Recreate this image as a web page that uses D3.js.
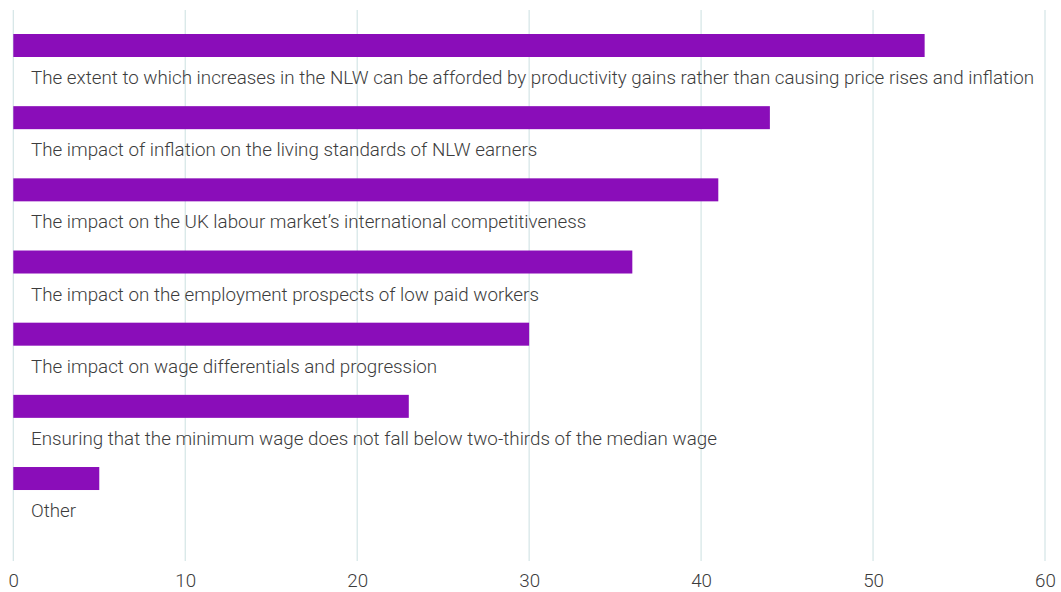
<!DOCTYPE html>
<html>
<head>
<meta charset="utf-8">
<script src="https://cdn.jsdelivr.net/npm/d3@7"></script>
<style>
  html, body { margin: 0; padding: 0; background: #fff; }
  svg { display: block; }
</style>
</head>
<body>
<svg id="chart" width="1061" height="592"></svg>
<script>
// Factors considered, in display order, with share of responses
const categories = [
  "The extent to which increases in the NLW can be afforded by productivity gains rather than causing price rises and inflation",
  "The impact of inflation on the living standards of NLW earners",
  "The impact on the UK labour market\u2019s international competitiveness",
  "The impact on the employment prospects of low paid workers",
  "The impact on wage differentials and progression",
  "Ensuring that the minimum wage does not fall below two-thirds of the median wage",
  "Other"
];
const values = [53, 44, 41, 36, 30, 23, 5];
const tickValues = [0, 10, 20, 30, 40, 50, 60];

const svg = d3.select("#chart");
const x = d3.scaleLinear().domain([0, 60]).range([13.3, 1045]);
const y = d3.scaleBand().domain(categories).range([34, 34 + 7 * 72.17]).padding(0);

const barH = 23;
const fontFamily = "Roboto, Lato, sans-serif";

// Vertical gridlines
svg.append("g")
  .selectAll("line")
  .data(tickValues)
  .join("line")
  .attr("x1", d => x(d)).attr("x2", d => x(d))
  .attr("y1", 10).attr("y2", 561)
  .attr("stroke", "#d4e5e6")
  .attr("stroke-width", 1.2);

// Bars
svg.append("g")
  .selectAll("rect")
  .data(values)
  .join("rect")
  .attr("x", x(0))
  .attr("y", (d, i) => y(categories[i]))
  .attr("width", d => x(d) - x(0))
  .attr("height", barH)
  .attr("fill", "#8a0db9");

// Category labels beneath each bar
svg.append("g")
  .selectAll("text")
  .data(categories)
  .join("text")
  .attr("x", 31)
  .attr("y", d => y(d) + 50)
  .attr("font-family", fontFamily)
  .attr("font-weight", 300)
  .attr("font-size", 18.8)
  .attr("fill", "#3c3c3c")
  .text(d => d);

// Bottom axis: tick labels only
const axis = d3.axisBottom(x).tickValues(tickValues).tickSize(0).tickPadding(0);
const ax = svg.append("g").attr("transform", "translate(0,574)").call(axis);
ax.select(".domain").remove();
ax.selectAll("text")
  .attr("font-family", fontFamily)
  .attr("font-weight", 300)
  .attr("font-size", 18.8)
  .attr("fill", "#3c3c3c")
  .attr("dy", "0.71em");
</script>
</body>
</html>
